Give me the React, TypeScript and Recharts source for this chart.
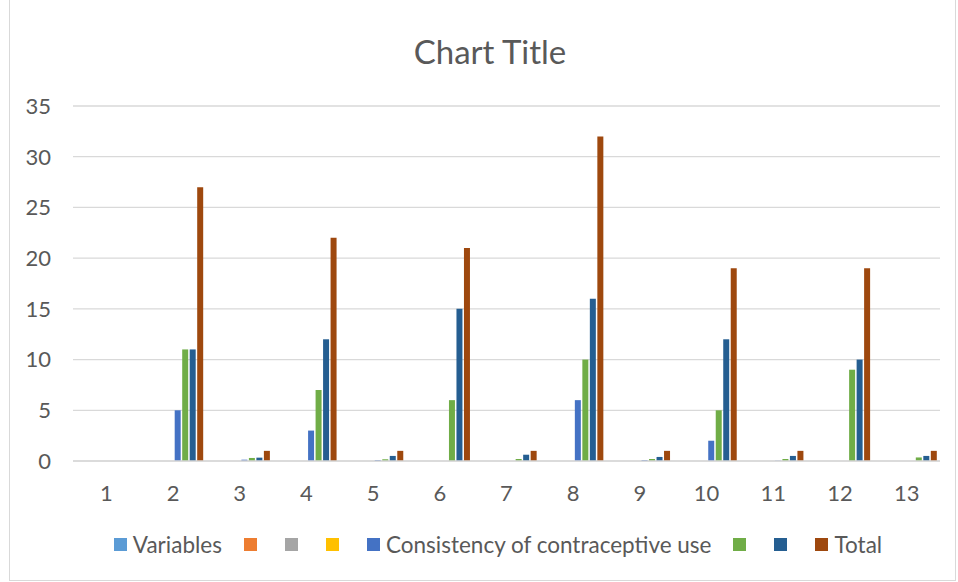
import React from 'react';
import { BarChart, Bar, XAxis, YAxis, CartesianGrid, Legend } from 'recharts';

const categories = ['1', '2', '3', '4', '5', '6', '7', '8', '9', '10', '11', '12', '13'];
const variables = [null, null, null, null, null, null, null, null, null, null, null, null, null];
const series2 = [null, null, null, null, null, null, null, null, null, null, null, null, null];
const series3 = [null, null, null, null, null, null, null, null, null, null, null, null, null];
const series4 = [null, null, null, null, null, null, null, null, null, null, null, null, null];
const consistency = [0, 5, 0.13, 3, 0.1, 0, 0, 6, 0.1, 2, 0.03, 0, 0];
const series6 = [0, 11, 0.3, 7, 0.17, 6, 0.2, 10, 0.2, 5, 0.2, 9, 0.35];
const series7 = [0, 11, 0.33, 12, 0.5, 15, 0.62, 16, 0.4, 12, 0.5, 10, 0.5];
const total = [0, 27, 1, 22, 1, 21, 1, 32, 1, 19, 1, 19, 1];
const yTicks = [0, 5, 10, 15, 20, 25, 30, 35];

const data = categories.map((c, i) => ({
  cat: c,
  variables: variables[i],
  s2: series2[i],
  s3: series3[i],
  s4: series4[i],
  consistency: consistency[i],
  s6: series6[i],
  s7: series7[i],
  total: total[i],
}));

const seriesList = [
  { key: 'variables', name: 'Variables', color: '#5B9BD5' },
  { key: 's2', name: '', color: '#ED7D31' },
  { key: 's3', name: '', color: '#A5A5A5' },
  { key: 's4', name: '', color: '#FFC000' },
  { key: 'consistency', name: 'Consistency of contraceptive use', color: '#4472C4' },
  { key: 's6', name: '', color: '#70AD47' },
  { key: 's7', name: '', color: '#255E91' },
  { key: 'total', name: 'Total', color: '#9E480E' },
];

const FONT = 'Lato, "Open Sans", sans-serif';
const TEXT = '#595959';

const LegendRow = () => (
  <div style={{ display: 'flex', justifyContent: 'center', alignItems: 'center', fontFamily: FONT, fontSize: 22.5, color: TEXT, paddingLeft: 60 }}>
    {seriesList.map((s) => (
      <div key={s.key} style={{ display: 'flex', alignItems: 'center', marginRight: 22 }}>
        <span style={{ display: 'inline-block', width: 13, height: 13, background: s.color, marginRight: 6 }} />
        <span>{s.name}</span>
      </div>
    ))}
  </div>
);

const App: React.FC = () => {
  return (
    <div style={{ position: 'absolute', left: 0, top: 0, width: 958, height: 582, background: '#fff' }}>
      <div style={{ position: 'absolute', left: 9, top: -1, width: 945, height: 580, border: '1px solid #D9D9D9' }} />
      <div style={{ position: 'absolute', left: 0, width: 980, top: 31, textAlign: 'center', fontFamily: FONT, fontSize: 33, color: TEXT }}>
        Chart Title
      </div>
      <BarChart
        width={958}
        height={582}
        data={data}
        margin={{ top: 106, right: 18, left: 0, bottom: 0 }}
        barCategoryGap={5}
        barGap={1.5}
        style={{ position: 'absolute', left: 0, top: 0 }}
      >
        <CartesianGrid vertical={false} stroke="#D9D9D9" strokeWidth={1.3} />
        <XAxis
          dataKey="cat"
          axisLine={{ stroke: '#D9D9D9', strokeWidth: 1.3 }}
          tickLine={false}
          tickSize={0}
          tickMargin={24}
          height={50}
          tick={{ fill: TEXT, fontSize: 22, fontFamily: FONT }}
        />
        <YAxis
          domain={[0, 35]}
          ticks={yTicks}
          width={73}
          axisLine={false}
          tickLine={false}
          tickSize={0}
          tickMargin={22}
          tick={{ fill: TEXT, fontSize: 22, fontFamily: FONT }}
        />
        <Legend
          verticalAlign="bottom"
          height={71}
          content={() => <LegendRow />}
          wrapperStyle={{ left: 0, top: 531, width: 958, bottom: 'auto' }}
        />
        {seriesList.map((s) => (
          <Bar key={s.key} dataKey={s.key} name={s.name} fill={s.color} isAnimationActive={false} />
        ))}
      </BarChart>
    </div>
  );
};

export default App;
